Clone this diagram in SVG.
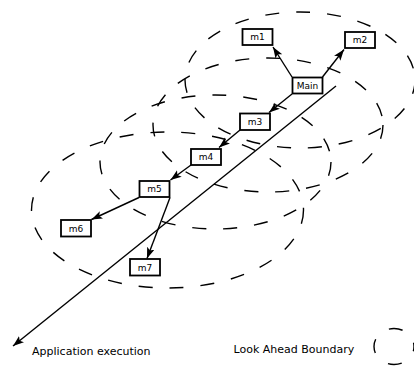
<svg xmlns="http://www.w3.org/2000/svg" width="414" height="367" viewBox="0 0 414 367">
<defs>
<style>
.b{fill:none;stroke:#000;stroke-width:1.4;stroke-dasharray:14 17}
.n rect{fill:#fff;stroke:#000;stroke-width:1.8}
.n text{font-family:"DejaVu Sans",sans-serif;font-size:9px;text-anchor:middle;fill:#000}
.c line{stroke:#000;stroke-width:1.4;marker-end:url(#ah)}
.l{font-family:"DejaVu Sans",sans-serif;font-size:11px;fill:#000}
</style>
<marker id="ah" markerUnits="userSpaceOnUse" markerWidth="13" markerHeight="10" refX="11" refY="4" orient="auto">
<path d="M0,0 L11,4 L0,8 L2.5,4 z" fill="#000"/>
</marker>
</defs>
<rect width="414" height="367" fill="#fff"/>
<g id="boundaries">
<ellipse class="b" cx="300" cy="80" rx="115" ry="68"/>
<ellipse class="b" cx="268" cy="125" rx="115" ry="67"/>
<ellipse class="b" cx="215.5" cy="162" rx="115.5" ry="67"/>
<ellipse class="b" cx="167.5" cy="210" rx="136" ry="78"/>
</g>
<g id="connectors" class="c">
<line x1="292" y1="77" x2="273" y2="47"/>
<line x1="322.5" y1="77" x2="344" y2="49.5"/>
<line x1="292" y1="94" x2="269" y2="112.5"/>
<line x1="240" y1="130" x2="219" y2="147.5"/>
<line x1="191" y1="165" x2="170.5" y2="180"/>
<line x1="139" y1="197.5" x2="91.5" y2="219.5"/>
<line x1="170" y1="197.5" x2="147" y2="258.5"/>
<line x1="336" y1="86" x2="13" y2="346"/>
</g>
<g id="m1" class="n"><rect x="242.5" y="29" width="30" height="16"/><text x="257.5" y="40.2">m1</text></g>
<g id="m2" class="n"><rect x="345" y="32" width="30" height="16"/><text x="360" y="43.2">m2</text></g>
<g id="main" class="n"><rect x="292.5" y="77.5" width="30" height="16"/><text x="307.5" y="88.7">Main</text></g>
<g id="m3" class="n"><rect x="240" y="113.5" width="30" height="16.5"/><text x="255" y="125">m3</text></g>
<g id="m4" class="n"><rect x="191" y="149" width="30" height="16"/><text x="206" y="160.2">m4</text></g>
<g id="m5" class="n"><rect x="139.5" y="181" width="30" height="16"/><text x="154.5" y="192.2">m5</text></g>
<g id="m6" class="n"><rect x="61" y="220" width="30" height="16.5"/><text x="76" y="231.5">m6</text></g>
<g id="m7" class="n"><rect x="130" y="259" width="30" height="16.5"/><text x="145" y="270.5">m7</text></g>
<g id="legend">
<text class="l" x="32" y="355">Application execution</text>
<text class="l" x="233.5" y="352.5">Look Ahead Boundary</text>
<ellipse class="b" cx="394" cy="346.5" rx="20" ry="18" stroke-dashoffset="9.2"/>
</g>
</svg>
